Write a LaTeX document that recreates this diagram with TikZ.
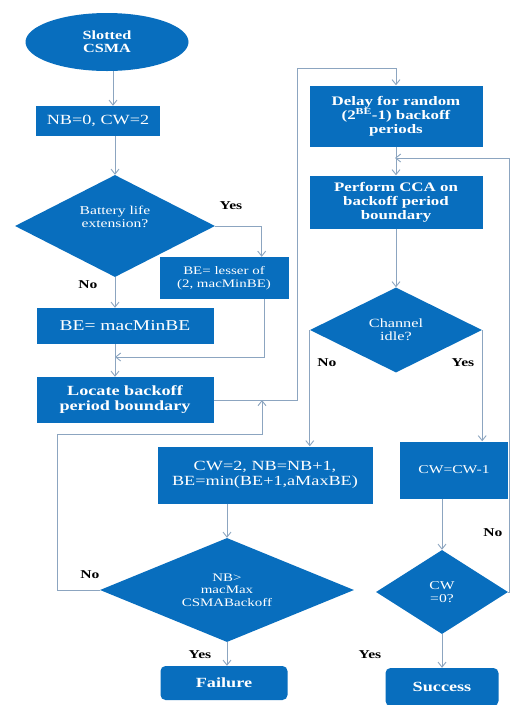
\documentclass[tikz,border=0pt]{standalone}
\usepackage{fontspec}
\setmainfont[FakeStretch=1.3]{Liberation Serif}
\usetikzlibrary{shapes.geometric,arrows.meta,calc}
\definecolor{flowblue}{RGB}{8,110,190}
\definecolor{linegray}{RGB}{140,165,192}

\begin{document}
\begin{tikzpicture}[x=1pt,y=-1pt,
  box/.style={rectangle,fill=flowblue,text=white,align=center,inner sep=1pt},
  roundbox/.style={box,rounded corners=5pt},
  decision/.style={diamond,fill=flowblue,text=white,align=center,inner sep=0pt,aspect=2},
  flow/.style={draw=linegray,line width=0.9pt,-{Straight Barb[length=5pt,width=8pt]}},
  lbl/.style={font=\fontsize{12}{13}\selectfont\bfseries,inner sep=0pt}]
  \useasboundingbox[fill=white] (0,0) rectangle (511,705);

  % left column
  \node[ellipse,fill=flowblue,text=white,align=center,minimum width=163pt,minimum height=58pt,
        font=\fontsize{12.5}{13}\selectfont\bfseries] (start) at (107,42) {Slotted\\CSMA};
  \node[box,minimum width=124pt,minimum height=30pt,font=\fontsize{14}{15}\selectfont] (init) at (98,121) {NB=0, CW=2};
  \node[decision,minimum width=200pt,minimum height=102pt,font=\fontsize{12}{13}\selectfont] (battery) at (115,226) {Battery life\\extension?\\[6pt]};
  \node[box,minimum width=129pt,minimum height=42pt,font=\fontsize{11.5}{12.5}\selectfont] (lesser) at (224,278) {BE= lesser of\\(2, macMinBE)};
  \node[box,minimum width=177pt,minimum height=36pt,font=\fontsize{15}{16}\selectfont] (minbe) at (125,326) {BE= macMinBE};
  \node[box,minimum width=177pt,minimum height=46pt,font=\fontsize{14}{15}\selectfont\bfseries] (locate) at (125,400) {Locate backoff\\period boundary};

  % right column
  \node[box,minimum width=173pt,minimum height=61pt,font=\fontsize{13}{14}\selectfont\bfseries] (delay) at (396,116) {Delay for random\\(2\textsuperscript{BE}-1) backoff\\periods};
  \node[box,minimum width=173pt,minimum height=53pt,font=\fontsize{13}{14}\selectfont\bfseries] (cca) at (396,202) {Perform CCA on\\backoff period\\boundary};
  \node[decision,minimum width=172pt,minimum height=85pt,font=\fontsize{12.5}{13}\selectfont] (channel) at (396,330) {Channel\\idle?};
  \node[box,minimum width=215pt,minimum height=57pt,font=\fontsize{14}{15}\selectfont] (cwreset) at (265,475) {CW=2, NB=NB+1,\\BE=min(BE+1,aMaxBE)};
  \node[box,minimum width=108pt,minimum height=57pt,font=\fontsize{12}{13}\selectfont] (cwdec) at (454,470) {CW=CW-1};
  \node[decision,minimum width=254pt,minimum height=104pt,font=\fontsize{11.5}{12.5}\selectfont] (nbcheck) at (227,590) {NB>\\macMax\\CSMABackoff};
  \node[decision,minimum width=132pt,minimum height=84pt,font=\fontsize{12}{13}\selectfont] (cwzero) at (442,592) {CW\\=0?};
  \node[roundbox,minimum width=127pt,minimum height=34pt,font=\fontsize{14}{15}\selectfont\bfseries] (failure) at (224,683) {Failure};
  \node[roundbox,minimum width=113pt,minimum height=38pt,font=\fontsize{14}{15}\selectfont\bfseries] (success) at (442,687) {Success};

  % branch labels
  \node[lbl] (yesbat) at (231,206) {Yes};
  \node[lbl] (nobat) at (88,285) {No};
  \node[lbl] (nochan) at (327,363) {No};
  \node[lbl] (yeschan) at (463,363) {Yes};
  \node[lbl] (nonb) at (90,575) {No};
  \node[lbl] (yesnb) at (200,655) {Yes};
  \node[lbl] (nocw) at (493,533) {No};
  \node[lbl] (yescw) at (370,655) {Yes};

  % turning points
  \coordinate (merge) at (115,357);
  \coordinate (up) at (297,68);
  \coordinate (back) at (262,400);
  \coordinate (around) at (57,434);
  \coordinate (retry) at (395,158);
  \coordinate (edge) at (509,158);

  % connectors
  \draw[flow] ([xshift=6pt]start.south) -- ([xshift=6pt]start.south |- init.north);
  \draw[flow] (battery |- init.south) -- (battery.north);
  \draw[flow] (battery.east) -| ([xshift=-27pt]lesser.north east);
  \draw[flow] (battery.south) -- (battery.south |- minbe.north);
  \draw[flow] ([xshift=-24pt]lesser.south east) |- (merge);
  \draw[flow] (merge |- minbe.south) -- (merge |- locate.north);
  \draw[flow] (locate.east) -| (up) -| (delay.north);
  \draw[flow] (delay.south) -- (cca.north);
  \draw[flow] (cca.south) -- (channel.north);
  \draw[flow] (channel.west) -- (channel.west |- cwreset.north);
  \draw[flow] (channel.east) -- (channel.east |- cwdec.north);
  \draw[flow] (nbcheck |- cwreset.south) -- (nbcheck.north);
  \draw[flow] (nbcheck.south) -- (nbcheck.south |- failure.north);
  \draw[flow] (nbcheck.west) -| (around) -| (back);
  \draw[flow] (cwzero |- cwdec.south) -- (cwzero.north);
  \draw[flow] (cwzero.south) -- (success.north);
  \draw[flow] (cwzero.east) -| (edge) -- (retry);
\end{tikzpicture}
\end{document}
